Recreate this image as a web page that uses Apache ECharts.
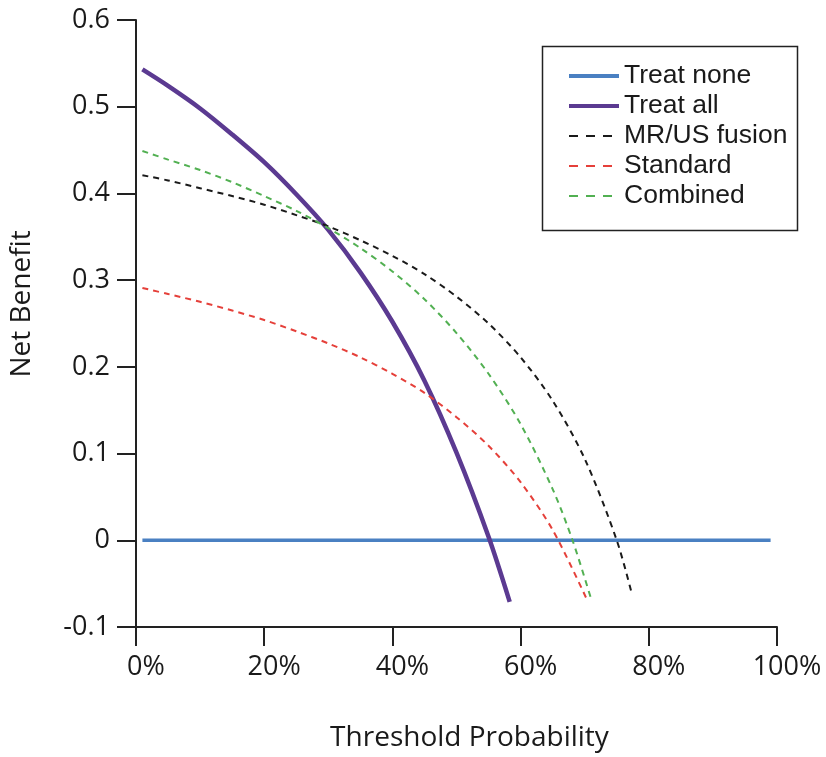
<!DOCTYPE html>
<html>
<head>
<meta charset="utf-8">
<script src="https://cdn.jsdelivr.net/npm/echarts@6/dist/echarts.min.js"></script>
<style>
  html, body { margin: 0; padding: 0; background: #fff; }
  #dcaChart { width: 826px; height: 757px; }
</style>
</head>
<body>
<div id="dcaChart"></div>
<script>
// threshold probability (%) and net benefit
var noneX = [1, 99];
var noneY = [0, 0];

var allX = [1, 5, 10, 15, 20, 25, 30, 35, 40, 45, 50, 55, 58.3];
var allY = [0.543, 0.524, 0.498, 0.468, 0.436, 0.399, 0.358, 0.309, 0.252, 0.184, 0.101, 0.004, -0.071];

var fusionX = [1, 5, 10, 15, 20, 25, 30, 35, 40, 45, 50, 55, 60, 65, 70, 75, 77.4];
var fusionY = [0.421, 0.415, 0.406, 0.397, 0.387, 0.375, 0.362, 0.346, 0.328, 0.307, 0.281, 0.250, 0.211, 0.161, 0.094, 0.0, -0.063];

var standardX = [1, 5, 10, 15, 20, 25, 30, 35, 40, 45, 50, 55, 60, 65, 70.2];
var standardY = [0.291, 0.284, 0.275, 0.265, 0.254, 0.241, 0.227, 0.211, 0.192, 0.170, 0.142, 0.109, 0.067, 0.012, -0.066];

var combinedX = [1, 5, 10, 15, 20, 25, 30, 35, 40, 45, 50, 55, 60, 65, 68.1, 71.1];
var combinedY = [0.449, 0.439, 0.427, 0.413, 0.397, 0.380, 0.360, 0.337, 0.310, 0.278, 0.239, 0.192, 0.134, 0.059, 0.0, -0.070];

var seriesNames = ['Treat none', 'Treat all', 'MR/US fusion', 'Standard', 'Combined'];

function pairs(xs, ys) {
    return xs.map(function (x, i) { return [x, ys[i]]; });
}

var font = 'Open Sans';
var chart = echarts.init(document.getElementById('dcaChart'));

var option = {
    backgroundColor: '#ffffff',
    animation: false,
    grid: { left: 136, right: 49, top: 20, bottom: 128.5, containLabel: false },
    xAxis: {
        type: 'value',
        min: 0,
        max: 100,
        interval: 20,
        name: 'Threshold Probability',
        nameLocation: 'middle',
        nameGap: 97,
        nameTextStyle: { fontFamily: font, fontSize: 28, color: '#1a1a1a', padding: [0, 0, 0, 26] },
        axisLine: { onZero: false, lineStyle: { color: '#222', width: 2 } },
        axisTick: { inside: false, length: 19, lineStyle: { color: '#222', width: 2 } },
        axisLabel: {
            formatter: '{value}%',
            margin: 27,
            fontFamily: font,
            fontSize: 27,
            color: '#1a1a1a',
            padding: [0, 0, 0, 20]
        },
        splitLine: { show: false }
    },
    yAxis: {
        type: 'value',
        min: -0.1,
        max: 0.6,
        interval: 0.1,
        name: 'Net Benefit',
        nameLocation: 'middle',
        nameGap: 100,
        nameTextStyle: { fontFamily: font, fontSize: 28, color: '#1a1a1a', padding: [0, 0, 0, 39] },
        axisLine: { onZero: false, lineStyle: { color: '#222', width: 2 } },
        axisTick: { inside: false, length: 19, lineStyle: { color: '#222', width: 2 } },
        axisLabel: {
            margin: 26,
            fontFamily: font,
            fontSize: 27,
            color: '#1a1a1a',
            padding: [8, 0, 0, 0],
            formatter: function (v) { return String(parseFloat(v.toFixed(1))); }
        },
        splitLine: { show: false }
    },
    legend: {
        orient: 'vertical',
        left: 562,
        top: 56,
        itemWidth: 50,
        itemHeight: 14,
        itemGap: 0,
        data: [
            { name: seriesNames[0], lineStyle: { width: 4 } },
            { name: seriesNames[1], lineStyle: { width: 4 } },
            { name: seriesNames[2], lineStyle: { width: 2, type: [9, 8] } },
            { name: seriesNames[3], lineStyle: { width: 2, type: [9, 8] } },
            { name: seriesNames[4], lineStyle: { width: 2, type: [9, 8] } }
        ],
        itemStyle: { opacity: 0 },
        textStyle: { fontFamily: 'Liberation Sans', fontSize: 26.5, color: '#1a1a1a', lineHeight: 30, padding: [0, 0, 0, 0] }
    },
    graphic: [{
        type: 'rect',
        left: 540,
        top: 44,
        shape: { width: 255, height: 184 },
        style: { fill: 'none', stroke: '#222', lineWidth: 1.5 },
        z: 100
    }],
    series: [
        {
            name: seriesNames[0],
            type: 'line',
            data: pairs(noneX, noneY),
            symbol: 'none',
            lineStyle: { color: '#4a80c2', width: 3.5 },
            itemStyle: { color: '#4a80c2' }
        },
        {
            name: seriesNames[1],
            type: 'line',
            data: pairs(allX, allY),
            symbol: 'none',
            smooth: 0.3,
            lineStyle: { color: '#5b3a91', width: 4.5 },
            itemStyle: { color: '#5b3a91' }
        },
        {
            name: seriesNames[2],
            type: 'line',
            data: pairs(fusionX, fusionY),
            symbol: 'none',
            smooth: 0.3,
            lineStyle: { color: '#1a1a1a', width: 2, type: [6, 5] },
            itemStyle: { color: '#1a1a1a' }
        },
        {
            name: seriesNames[3],
            type: 'line',
            data: pairs(standardX, standardY),
            symbol: 'none',
            smooth: 0.3,
            lineStyle: { color: '#e5403a', width: 2, type: [6, 5] },
            itemStyle: { color: '#e5403a' }
        },
        {
            name: seriesNames[4],
            type: 'line',
            data: pairs(combinedX, combinedY),
            symbol: 'none',
            smooth: 0.3,
            lineStyle: { color: '#52b052', width: 2, type: [6, 5] },
            itemStyle: { color: '#52b052' }
        }
    ]
};

chart.setOption(option);
</script>
</body>
</html>
